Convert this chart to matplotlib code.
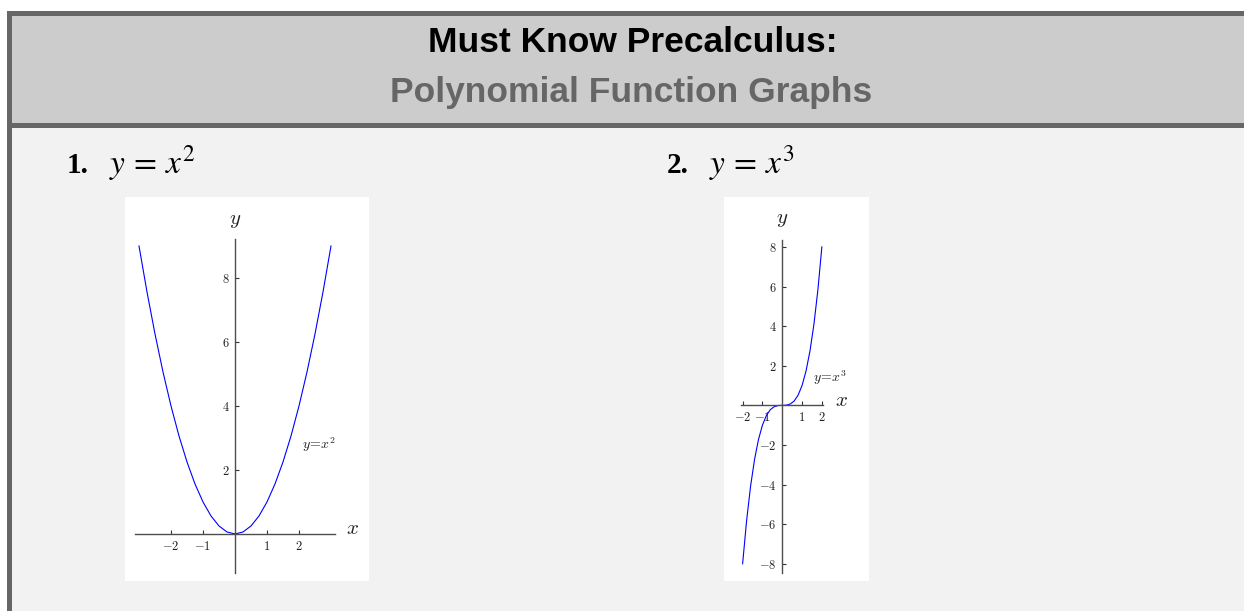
import matplotlib.pyplot as plt
from matplotlib.patches import Rectangle

plt.rcParams['mathtext.fontset'] = 'cm'

W, H = 1244, 611

title = 'Must Know Precalculus:'
subtitle = 'Polynomial Function Graphs'

# points
x_sq = [-3, -2.75, -2.5, -2.25, -2, -1.75, -1.5, -1.25, -1, -0.75, -0.5, -0.25, 0,
        0.25, 0.5, 0.75, 1, 1.25, 1.5, 1.75, 2, 2.25, 2.5, 2.75, 3]
y_sq = [9, 7.5625, 6.25, 5.0625, 4, 3.0625, 2.25, 1.5625, 1, 0.5625, 0.25, 0.0625, 0,
        0.0625, 0.25, 0.5625, 1, 1.5625, 2.25, 3.0625, 4, 5.0625, 6.25, 7.5625, 9]

x_cu = [-2, -1.8, -1.6, -1.4, -1.2, -1, -0.8, -0.6, -0.4, -0.2, 0,
        0.2, 0.4, 0.6, 0.8, 1, 1.2, 1.4, 1.6, 1.8, 2]
y_cu = [-8, -5.832, -4.096, -2.744, -1.728, -1, -0.512, -0.216, -0.064, -0.008, 0,
        0.008, 0.064, 0.216, 0.512, 1, 1.728, 2.744, 4.096, 5.832, 8]

x_ticks = [-2, -1, 1, 2]
y_ticks_sq = [2, 4, 6, 8]
y_ticks_cu = [-8, -6, -4, -2, 2, 4, 6, 8]

fig = plt.figure(figsize=(W / 100, H / 100), dpi=100)
fig.patch.set_facecolor('white')


def rect(x, y, w, h, color):
    fig.add_artist(Rectangle((x / W, 1 - (y + h) / H), w / W, h / H,
                             transform=fig.transFigure, facecolor=color,
                             edgecolor='none', zorder=-1))


def fy(y):
    return 1 - y / H


rect(7, 11, W - 7, H - 11, '#666666')
rect(12, 16, W - 12, 107, '#cccccc')
rect(12, 128, W - 12, H - 128, '#f2f2f2')

fig.text(633 / W, fy(52), title, ha='center', va='baseline', fontsize=25.5,
         fontweight='bold', family='Liberation Sans', color='black')
fig.text(631 / W, fy(102), subtitle, ha='center', va='baseline', fontsize=25.5,
         fontweight='bold', family='Liberation Sans', color='#666666')

for num, eq, x0 in [('1.', r'$y\,=\,x^2$', 67), ('2.', r'$y\,=\,x^3$', 667)]:
    fig.text(x0 / W, fy(173), num, ha='left', va='baseline', fontsize=21,
             fontweight='bold', family='Liberation Serif')
    fig.text((x0 + 42) / W, fy(173), eq, ha='left', va='baseline', fontsize=24,
             math_fontfamily='stix')


def make_plot(box, xs, ys, xlim, ylim, xb, yb, yticks, lab, lab_xy, xl_xy, yl_xy):
    x, y, w, h = box
    ax = fig.add_axes([x / W, 1 - (y + h) / H, w / W, h / H])
    ax.set_facecolor('white')
    ax.plot(xs, ys, color='#0000ff', lw=0.8)
    ax.set_xlim(*xlim)
    ax.set_ylim(*ylim)
    for s in ['top', 'right']:
        ax.spines[s].set_visible(False)
    for s, b in [('left', yb), ('bottom', xb)]:
        ax.spines[s].set_position(('data', 0))
        ax.spines[s].set_bounds(*b)
        ax.spines[s].set_color('#4d4d4d')
        ax.spines[s].set_linewidth(1.0)
    ax.set_xticks(x_ticks, labels=[f'${t}$' for t in x_ticks])
    ax.set_yticks(yticks, labels=[f'${t}$' for t in yticks])
    ax.tick_params(direction='in', length=3, width=0.8, color='#333333',
                   labelsize=9, labelcolor='#222222', pad=4)
    ax.text(*lab_xy, lab, fontsize=10, ha='left', va='center', color='#222222')
    ax.text(*xl_xy, '$x$', fontsize=15, ha='center', va='center', color='#222222')
    ax.text(*yl_xy, '$y$', fontsize=15, ha='center', va='center', color='#222222')
    return ax


make_plot((125, 197, 244, 384), x_sq, y_sq,
          (-3.4375, 4.1875), (-1.47, 10.53),
          (-3.125, 3.125), (-1.22, 9.22), y_ticks_sq,
          '$y\\!=\\!x^2$', (2.08, 2.78), (3.66, 0.19), (0, 9.81))

make_plot((724, 197, 145, 384), x_cu, y_cu,
          (-2.94, 4.38), (-8.87, 10.52),
          (-2.1, 2.05), (-8.46, 8.35), y_ticks_cu,
          '$y\\!=\\!x^3$', (1.55, 1.38), (3.0, 0.27), (0, 9.43))

fig.savefig('out.png', dpi=100)
